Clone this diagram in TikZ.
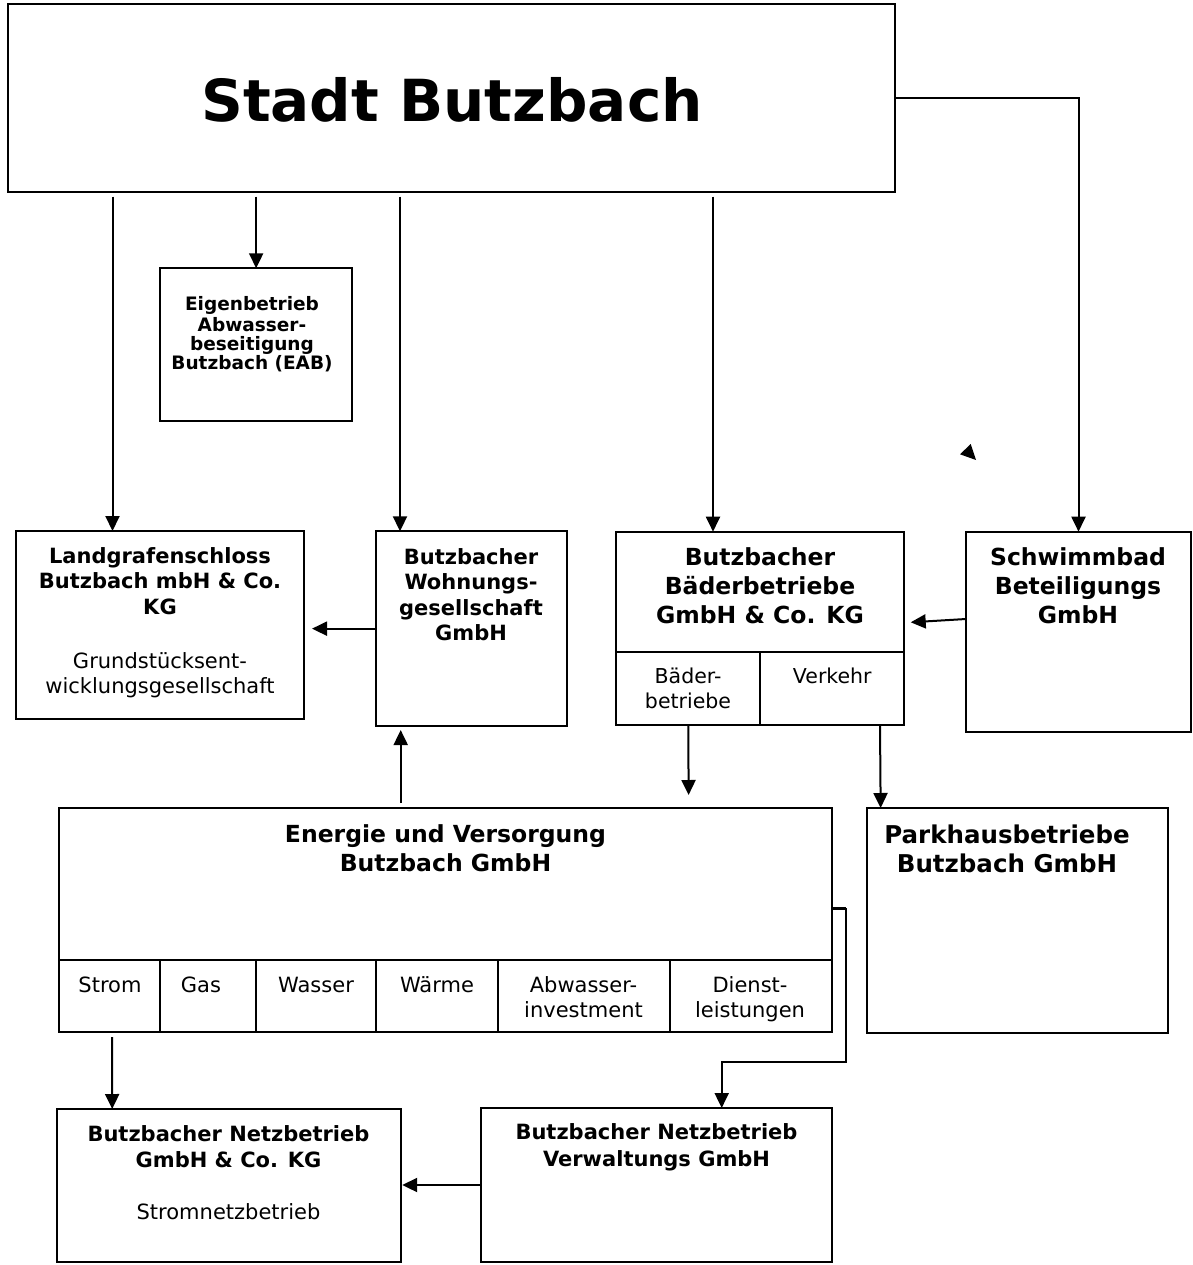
\documentclass[tikz,border=0pt]{standalone}
\usepackage{fontspec}
\setmainfont{DejaVu Sans}
\usetikzlibrary{arrows.meta,calc}
\tikzset{
  box/.style={draw, line width=2pt, inner sep=0pt, outer sep=0pt},
  ln/.style={line width=2pt},
  arr/.style={line width=2pt, -{Triangle[length=15pt,width=14pt]}},
  txt/.style 2 args={inner sep=0pt, outer sep=0pt, align=center, anchor=north, font=\fontsize{#1}{#2}\selectfont},
  txtb/.style 2 args={inner sep=0pt, outer sep=0pt, align=center, anchor=north, font=\fontsize{#1}{#2}\selectfont\bfseries}
}
\begin{document}
\begin{tikzpicture}[x=1pt,y=-1pt]
\useasboundingbox (0,0) rectangle (1192,1265);

% boxes
\node[box, minimum width=887pt, minimum height=187.7pt] (stadt) at (451.5,97.85) {};
\node[box, minimum width=192.3pt, minimum height=152.4pt] (eab) at (256.15,344.5) {};
\node[box, minimum width=288pt, minimum height=188pt] (land) at (160,625) {};
\node[box, minimum width=191pt, minimum height=194.7pt] (wohn) at (471.5,628.65) {};
\node[box, minimum width=288.6pt, minimum height=192.8pt] (baeder) at (760,628.1) {};
\node[box, minimum width=225pt, minimum height=200.6pt] (schwimm) at (1078.5,632) {};
\node[box, minimum width=773pt, minimum height=224pt] (energie) at (445.5,920) {};
\node[box, minimum width=301.3pt, minimum height=225pt] (park) at (1017.3,920.5) {};
\node[box, minimum width=344pt, minimum height=153pt] (netzkg) at (228.7,1185.5) {};
\node[box, minimum width=351.6pt, minimum height=154pt] (verw) at (656.5,1185) {};

% dividers
\draw[ln] ($(baeder.north west)+(0,120)$) -- ($(baeder.north east)+(0,120)$);
\draw[ln] (baeder.south) -- ($(baeder.north)+(0,120)$);
\draw[ln] ($(energie.north west)+(0,152)$) -- ($(energie.north east)+(0,152)$);
\foreach \dx in {101,197,317,439,611}{
  \draw[ln] ($(energie.north west)+(\dx,152)$) -- ($(energie.south west)+(\dx,0)$);
}

% texts
\node[inner sep=0pt, anchor=base, font=\fontsize{58}{70}\selectfont\bfseries] (tstadt) at (452,121.7) {Stadt Butzbach};
\node[txtb={18.5}{18.8}] (teab) at (252,296.8) {\strut Eigenbetrieb\\Abwasser-\\beseitigung\\Butzbach (EAB)};
\node[txtb={21}{25.5}] (tland) at (160,545.2) {\strut Landgrafenschloss\\Butzbach mbH \& Co.\\KG};
\node[txt={21}{25}] (tland2) at (160,650.5) {\strut Grundstücksent-\\wicklungsgesellschaft};
\node[txtb={21}{25.5}] (twohn) at (471,546.2) {\strut Butzbacher\\Wohnungs-\\gesellschaft\\GmbH};
\node[txtb={23.5}{29}] (tbaeder) at (760,545.4) {\strut Butzbacher\\Bäderbetriebe\\GmbH \& Co. KG};
\node[txt={20.5}{25}] (tbb) at (688,665.5) {\strut Bäder-\\betriebe};
\node[txt={20.5}{25}] (tvk) at (832.3,665.5) {\strut Verkehr};
\node[txtb={23.5}{29}] (tschwimm) at (1078,545.4) {\strut Schwimmbad\\Beteiligungs\\GmbH};
\node[txtb={23.5}{29}] (tenergie) at (445.5,822.4) {\strut Energie und Versorgung\\Butzbach GmbH};
\node[txt={21}{25.5}] (tstrom) at (110,974.6) {\strut Strom};
\node[txt={21}{25.5}] (tgas) at (201,974.6) {\strut Gas};
\node[txt={21}{25.5}] (twasser) at (316,974.6) {\strut Wasser};
\node[txt={21}{25.5}] (twaerme) at (437,974.6) {\strut Wärme};
\node[txt={21}{25.5}] (tabw) at (583.5,974.6) {\strut Abwasser-\\investment};
\node[txt={21}{25.5}] (tdienst) at (750,974.6) {\strut Dienst-\\leistungen};
\node[txtb={24.5}{29}] (tpark) at (1007,822.7) {\strut Parkhausbetriebe\\Butzbach GmbH};
\node[txtb={21}{26}] (tnetz) at (228.5,1123.5) {\strut Butzbacher Netzbetrieb\\GmbH \& Co. KG};
\node[txt={21}{26}] (tnetz2) at (228.5,1200.8) {\strut Stromnetzbetrieb};
\node[txtb={21}{27}] (tverw) at (656.5,1120.1) {\strut Butzbacher Netzbetrieb\\Verwaltungs GmbH};

% connectors
\coordinate (sb) at ($(stadt.south)+(0,5)$);
\draw[arr] ($(stadt.south west)+(104.5,5)$) -- ($(land.north west)+(96.5,0)$);
\draw[arr] (sb -| eab.north) -- (eab.north);
\draw[arr] ($(stadt.south west)+(392,5)$) -- ($(wohn.north west)+(24,0)$);
\draw[arr] ($(stadt.south west)+(705,5)$) -- ($(baeder.north west)+(97.3,0)$);
\draw[arr] (stadt.east) -| (schwimm.north);
\coordinate (lt) at ($(land.east)+(8,0)$);
\draw[arr] (wohn.west) -- (wohn.west -| lt);
\draw[arr] ($(schwimm.west)+(0,-13)$) -- ($(baeder.east)+(6.4,-5.8)$);
\draw[arr] ($(baeder.south west)+(72.6,0)$) -- ($(energie.north west)+(629.6,-13)$);
\draw[arr] ($(baeder.south west)+(264.3,0)$) -- ($(park.north west)+(14,0)$);
\draw[arr] ($(energie.north west)+(341.7,-5)$) -- ($(wohn.south west)+(24.7,4)$);
\coordinate (ce) at ($(energie.east)+(0,-11.7)$);
\draw[line width=3pt] (ce) -- ++(14,0);
\draw[arr] ($(ce)+(13.5,0)$) |- ($(verw.north west)+(241,-46)$) -- ($(verw.north west)+(241,0)$);
\draw[arr] ($(energie.south west)+(53,5)$) -- ($(netzkg.north west)+(55.5,0)$);
\coordinate (nke) at ($(netzkg.east)+(1.5,0)$);
\draw[arr] (verw.west) -- (verw.west -| nke);

% stray arrowhead
\fill (960,454.3) -- (970.7,444) -- (976,460) -- cycle;
\end{tikzpicture}
\end{document}
